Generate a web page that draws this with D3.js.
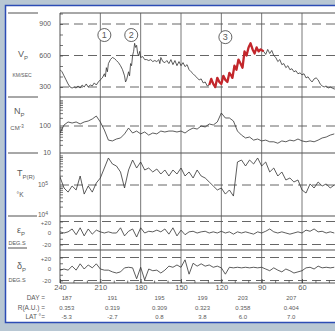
<!DOCTYPE html>
<html>
<head>
<meta charset="utf-8">
<script src="https://cdn.jsdelivr.net/npm/d3@7"></script>
<style>
  html, body { margin: 0; padding: 0; background: #b8c7d3; }
  svg { display: block; }
  text { font-family: "Liberation Sans", Arial, sans-serif; fill: #5a5a5a; }
</style>
</head>
<body>
<svg id="chart" width="335" height="331"></svg>
<script>
// ---- data ----
// Carrington longitude grid of the noisy traces (deg)
const lonGrid = [240,237,234,231,228,225,222,219,216,213,210,207,204,201,198,195,192,189,186,183,
  180,177,174,171,168,165,162,159,156,153,150,147,144,141,138,135,132,129,126,123,
  120,117,114,111,108,105,102,99,96,93,90,87,84,81,78,75,72,69,66,63,
  60,57,54,51,48,45,42,39,36];

// proton speed (km/s)
const vpLon = [240,238.5,237,235.5,234,232.5,231,229.5,228,226.5,225,223.5,222,220.5,219,217.5,216,214.5,213,211.5,
  210,208.5,207,206.25,205.5,204.75,204,202.5,201,199.5,198,196.5,195,193.5,192,191.25,190.5,189,188.25,187.5,
  186.75,186,185.25,184.5,183.75,183,182.25,181.5,180.75,180,178.5,177,175.5,174,172.5,171,169.5,168,166.5,165.75,
  165,163.5,162,160.5,159,157.5,156,154.5,153,151.5,150,148.5,147,145.5,144,142.5,141,139.5,138,136.5,
  135,133.5,132,130.5,129,
  127.5,126,124.5,123,121.5,120,118.5,117,115.5,114,112.5,111.75,110.25,108.75,107.25,105.75,104.25,102.75,101.25,99.75,
  98.25,96.75,95.25,93.75,92.25,90.75,88.5,
  87,85.5,84,82.5,81,79.5,78,76.5,75,73.5,72,70.5,69,67.5,66,64.5,63,61.5,60,58.5,
  57,55.5,54,52.5,51,49.5,48,46.5,45,43.5,42,40.5,39,37.5,36,33.75];
const vpVal = [465,445,406,368,329,300,290,300,290,310,290,319,300,329,300,319,310,339,319,348,
  368,387,426,397,484,445,523,561,581,571,552,532,503,465,406,348,368,445,406,523,
  503,600,639,716,677,697,619,600,639,581,590,561,561,552,561,542,552,542,561,523,
  581,542,532,552,523,561,513,552,503,542,503,532,494,513,465,445,426,406,387,368,
  377,339,348,310,319,
  377,329,300,387,348,329,406,368,348,435,406,387,503,465,561,523,484,639,600,677,
  716,658,619,677,639,658,639,
  610,658,619,648,600,581,542,561,513,523,484,503,465,474,445,455,426,435,416,426,
  387,397,368,348,377,387,368,329,310,300,310,290,300,290,281,290];
const redFrom = 129, redTo = 88.5;   // highlighted stretch (event 3)

// proton density (cm^-3)
const npVal = [55,109,141,129,141,119,141,153,182,234,141,71,30,28,33,36,51,84,55,65,
  51,60,46,55,51,65,60,65,65,60,65,55,71,84,77,100,92,119,109,141,
  303,198,198,153,65,46,36,39,30,33,28,30,26,26,23,28,26,30,28,33,
  28,26,28,26,30,36,39,46,51];

// proton temperature (K)
const tpVal = [1.81e5,8.0e4,5.9e4,9.3e4,6.9e4,1.95e5,5.1e4,9.3e4,5.9e4,1.16e5,1.68e5,3.53e5,7.43e5,4.76e5,4.10e5,2.63e5,8.0e4,3.05e5,6.40e5,3.53e5,
  5.52e5,3.05e5,3.53e5,2.63e5,3.28e5,2.26e5,3.05e5,1.95e5,3.05e5,2.26e5,3.53e5,1.95e5,2.63e5,1.68e5,3.05e5,1.95e5,1.68e5,1.25e5,9.3e4,6.9e4,
  8.0e4,5.1e4,6.9e4,4.4e4,5.52e5,6.40e5,4.10e5,6.40e5,4.76e5,7.43e5,4.10e5,5.52e5,2.63e5,3.53e5,1.95e5,2.63e5,1.45e5,1.68e5,1.25e5,1.45e5,
  6.9e4,5.5e4,1.08e5,8.0e4,1.25e5,9.3e4,1.08e5,8.0e4,1.0e5];

// flow angles (deg)
const epVal = [2,0,2,7,-3,9,-5,7,-2,5,2,0,2,0,0,9,-5,3,7,-7,
  9,0,3,2,5,2,7,-2,9,-5,5,-3,2,3,0,2,3,0,2,0,
  3,0,2,-2,2,0,2,0,-2,2,0,3,7,2,0,2,0,-2,0,2,
  0,5,3,7,2,3,0,2,0];
const dpVal = [-2,0,-2,5,-2,9,0,7,2,9,0,-2,-2,-5,-7,-5,2,3,2,-17,
  3,-19,0,-3,-2,-7,-2,5,3,7,3,16,-9,10,5,9,5,7,3,5,
  2,-9,3,2,3,2,3,2,3,2,3,0,-3,2,-2,-5,0,-3,-7,-5,
  -3,2,3,0,5,2,3,2,3];

// axis ticks
const lonMajor = [240,210,180,150,120,90,60];
const lonMinor = [230,220,200,190,170,160,140,130,110,100,80,70,50,40];

// ephemeris rows
const ephLon = [235,201,166,134,104,68];
const ephDay = ["187","191","195","199","203","207"];
const ephR   = ["0.353","0.319","0.309","0.323","0.358","0.404"];
const ephLat = ["-5.3","-2.7","0.8","3.8","6.0","7.0"];

// numbered events [lon, Vp]
const events = [[207, 795, "1"], [187, 795, "2"], [117, 775, "3"]];

// ---- drawing ----
const W = 335, H = 331;
const pLeft = 60, pTop = 13, pBottom = 283;
const ink = "#3c3c3c";
const svg = d3.select("#chart");

// scanned page + blue frame
svg.append("rect").attr("x", 6).attr("y", 5).attr("width", W - 6).attr("height", 318).attr("fill", "#fff");
svg.append("path").attr("d", `M${W},5.5H5.5V322.5H${W}`)
  .attr("fill", "none").attr("stroke", "#2c4cb5").attr("stroke-width", 1.5);

const x = d3.scaleLinear().domain([240, 60]).range([pLeft, 302]);
const yVp = d3.scaleLinear().domain([300, 900]).range([87, 24]);
const yNp = d3.scaleLog().domain([10, 100]).range([153, 126]);
const yTp = d3.scaleLog().domain([1e4, 1e5]).range([216, 185]);
const yEp = d3.scaleLinear().domain([-20, 20]).range([244.5, 221.5]);
const yDp = d3.scaleLinear().domain([-20, 20]).range([280.5, 257.5]);

// panel borders
const borders = [pTop, 97, 153, 216, 250, pBottom];
svg.selectAll("line.border").data(borders).enter().append("line")
  .attr("x1", pLeft).attr("x2", W).attr("y1", d => d).attr("y2", d => d)
  .attr("stroke", ink).attr("stroke-width", 0.9);
svg.append("line").attr("x1", pLeft).attr("x2", pLeft).attr("y1", pTop).attr("y2", pBottom)
  .attr("stroke", ink).attr("stroke-width", 0.9);

// vertical grid
svg.selectAll("line.vgrid").data(lonMajor.slice(1)).enter().append("line")
  .attr("x1", d => x(d)).attr("x2", d => x(d)).attr("y1", pTop).attr("y2", pBottom)
  .attr("stroke", "#555").attr("stroke-width", 0.8);

// dashed reference levels
const dashed = [[yVp, [300, 600, 900]], [yNp, [100]], [yTp, [1e5]], [yEp, [-20, 20]], [yDp, [-20, 20]]];
dashed.forEach(([s, vals]) => {
  svg.selectAll(null).data(vals).enter().append("line")
    .attr("x1", pLeft).attr("x2", W).attr("y1", d => s(d)).attr("y2", d => s(d))
    .attr("stroke", "#555").attr("stroke-width", 0.9).attr("stroke-dasharray", "9,5");
});

// inner ticks on the left axis
function leftTicks(scale, vals) {
  svg.append("g").attr("transform", `translate(${pLeft},0)`)
    .call(d3.axisLeft(scale).tickValues(vals).tickSize(-3).tickFormat(""))
    .call(g => g.select(".domain").remove())
    .selectAll("line").attr("stroke", ink).attr("stroke-width", 0.7);
}
leftTicks(yVp, [300, 400, 500, 600, 700, 800, 900, 1000]);
leftTicks(yNp, [20, 30, 40, 50, 60, 70, 80, 90, 200, 300, 400, 500, 600, 700, 800, 900]);
leftTicks(yTp, [2e4, 3e4, 4e4, 5e4, 6e4, 7e4, 8e4, 9e4, 2e5, 3e5, 4e5, 5e5, 6e5, 7e5, 8e5, 9e5]);
leftTicks(yEp, [-20, -10, 0, 10, 20]);
leftTicks(yDp, [-20, -10, 0, 10, 20]);

// tick labels on the left
function label(txt, xx, yy, size, anchor) {
  return svg.append("text").attr("x", xx).attr("y", yy).attr("font-size", size)
    .attr("text-anchor", anchor || "end").attr("dy", "0.35em").text(txt);
}
[300, 600, 900].forEach(v => label(v, 51, yVp(v), 7));
label("100", 51, yNp(100), 7);
label("10", 51, yNp(10), 7);
[[yTp(1e5), "5"], [yTp(1e4) - 1.5, "4"]].forEach(([yy, e]) => {
  const t = label("10", 48, yy, 6.5);
  t.append("tspan").attr("dy", "-0.45em").attr("font-size", 5).text(e);
});
[[yEp, 20], [yEp, 0], [yEp, -20], [yDp, 20], [yDp, 0], [yDp, -20]].forEach(([s, v]) =>
  label(v > 0 ? "+" + v : String(v), 51, s(v) + (v > 0 ? 1 : 0), 6));

// short separators at the far left
[[13, 38], [97, 38], [153, 38], [216, 37], [248, 27]].forEach(([yy, x2]) =>
  svg.append("line").attr("x1", 8).attr("x2", x2).attr("y1", yy).attr("y2", yy)
    .attr("stroke", ink).attr("stroke-width", 0.9));

// parameter names
function pname(sym, sub, xx, yy) {
  const t = svg.append("text").attr("x", xx).attr("y", yy).attr("font-size", 9).text(sym);
  t.append("tspan").attr("dy", 2.5).attr("font-size", 6).text(sub);
}
pname("V", "P", 18, 57);
label("KM/SEC", 22, 75, 5, "middle");
pname("N", "P", 14, 114);
const cm = label("CM", 17, 128, 6, "middle");
cm.append("tspan").attr("dy", -2).attr("font-size", 4.5).text("-3");
pname("T", "P(R)", 17, 176);
label("°K", 20, 195, 6.5, "middle");
pname("ε", "P", 17, 233);
label("DEG.S", 17, 243, 5.5, "middle");
pname("δ", "P", 17, 269);
label("DEG.S", 17, 280, 5.5, "middle");

// bottom axis
svg.append("g").attr("transform", `translate(0,${pBottom})`)
  .call(d3.axisBottom(x).tickValues(lonMinor).tickSize(-2.5).tickFormat(""))
  .call(g => g.select(".domain").remove())
  .selectAll("line").attr("stroke", ink).attr("stroke-width", 0.7);
const xa = svg.append("g").attr("transform", `translate(0,${pBottom})`)
  .call(d3.axisBottom(x).tickValues(lonMajor).tickSize(-4).tickPadding(2));
xa.select(".domain").remove();
xa.selectAll("line").attr("stroke", ink).attr("stroke-width", 0.8);
xa.selectAll("text").attr("font-size", 7.5).attr("fill", "#555")
  .attr("font-family", '"Liberation Sans", Arial, sans-serif');

// ephemeris table
label("DAY =", 45, 298, 6.5);
label("R(A.U.) =", 45, 308, 6.5);
label("LAT °=", 45, 317, 6.5);
[ephDay, ephR, ephLat].forEach((row, r) => {
  svg.selectAll(null).data(row).enter().append("text")
    .attr("x", (d, i) => x(ephLon[i])).attr("y", 298 + r * 9.5).attr("dy", "0.35em")
    .attr("font-size", 6).attr("text-anchor", "middle").text(d => d);
});

// traces
svg.append("clipPath").attr("id", "plot").append("rect")
  .attr("x", pLeft).attr("y", pTop).attr("width", W - pLeft).attr("height", pBottom - pTop);
const gTr = svg.append("g").attr("clip-path", "url(#plot)");
function trace(lons, vals, s, color, width) {
  const line = d3.line().x(d => x(d[0])).y(d => s(d[1]));
  gTr.append("path").datum(d3.zip(lons, vals))
    .attr("fill", "none").attr("stroke", color).attr("stroke-width", width)
    .attr("stroke-linejoin", "round").attr("d", line);
}
trace(vpLon, vpVal, yVp, "#333", 0.8);
const red = d3.zip(vpLon, vpVal).filter(d => d[0] <= redFrom && d[0] >= redTo);
trace(red.map(d => d[0]), red.map(d => d[1]), yVp, "#c3262b", 2.3);
trace(lonGrid, npVal, yNp, "#333", 0.8);
trace(lonGrid, tpVal, yTp, "#333", 0.8);
trace(lonGrid, epVal, yEp, "#333", 0.8);
trace(lonGrid, dpVal, yDp, "#333", 0.8);

// numbered events
events.forEach(([lo, v, n]) => {
  svg.append("circle").attr("cx", x(lo)).attr("cy", yVp(v)).attr("r", 6.5)
    .attr("fill", "#fff").attr("stroke", ink).attr("stroke-width", 0.8);
  svg.append("text").attr("x", x(lo)).attr("y", yVp(v)).attr("dy", "0.36em")
    .attr("text-anchor", "middle").attr("font-size", 9).attr("fill", "#444").text(n);
});
</script>
</body>
</html>
